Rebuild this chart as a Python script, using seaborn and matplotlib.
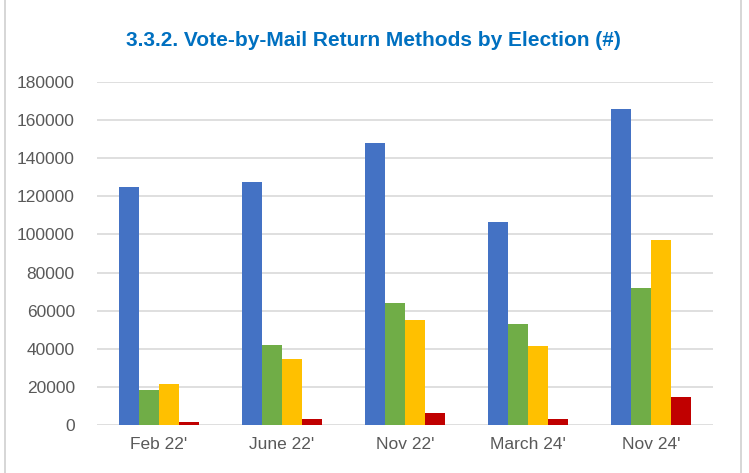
import pandas as pd
import matplotlib.pyplot as plt
import seaborn as sns
from matplotlib.lines import Line2D

# Data
elections = ["Feb 22'", "June 22'", "Nov 22'", "March 24'", "Nov 24'"]
methods = ["Method 1", "Method 2", "Method 3", "Method 4"]
method1 = [124700, 127300, 147800, 106300, 165600]
method2 = [18400, 42000, 63800, 53200, 72000]
method3 = [21400, 34500, 55100, 41300, 96900]
method4 = [1800, 3100, 6500, 3000, 14900]
colors = ["#4472C4", "#70AD47", "#FFC000", "#C00000"]

rows = []
for name, vals in zip(methods, [method1, method2, method3, method4]):
    for e, v in zip(elections, vals):
        rows.append({"Election": e, "Method": name, "Count": v})
df = pd.DataFrame(rows)

sns.set_style("white")
plt.rcParams['font.family'] = ['Liberation Sans', 'DejaVu Sans']

fig = plt.figure(figsize=(7.49, 4.73), dpi=100)
ax = fig.add_axes([0.1295, 0.1015, 0.8225, 0.7251])

sns.barplot(data=df, x="Election", y="Count", hue="Method", palette=colors,
            width=0.65, gap=0, saturation=1, legend=False, ax=ax,
            order=elections, hue_order=methods, linewidth=0, edgecolor="none")

ax.set_ylim(0, 180000)
ax.set_yticks(range(0, 180001, 20000))
ax.set_xlim(-0.5, 4.5)
ax.yaxis.grid(True, color="#D9D9D9", linewidth=1.2)
ax.set_axisbelow(True)
for s in ax.spines.values():
    s.set_visible(False)
ax.tick_params(axis="both", length=0, labelsize=12.5, colors="#595959")
ax.tick_params(axis="y", pad=16)
ax.tick_params(axis="x", pad=9)
ax.set_xlabel("")
ax.set_ylabel("")

fig.text(0.498, 0.915, "3.3.2. Vote-by-Mail Return Methods by Election (#)",
         ha="center", va="center", fontsize=15, fontweight="bold", color="#0070C0")

# light frame lines at the left and right edges
fig.add_artist(Line2D([5 / 749, 5 / 749], [0, 1], color="#D0D0D0", linewidth=1.2))
fig.add_artist(Line2D([741 / 749, 741 / 749], [0, 1], color="#D0D0D0", linewidth=1.2))

fig.savefig("out.png", dpi=100)
